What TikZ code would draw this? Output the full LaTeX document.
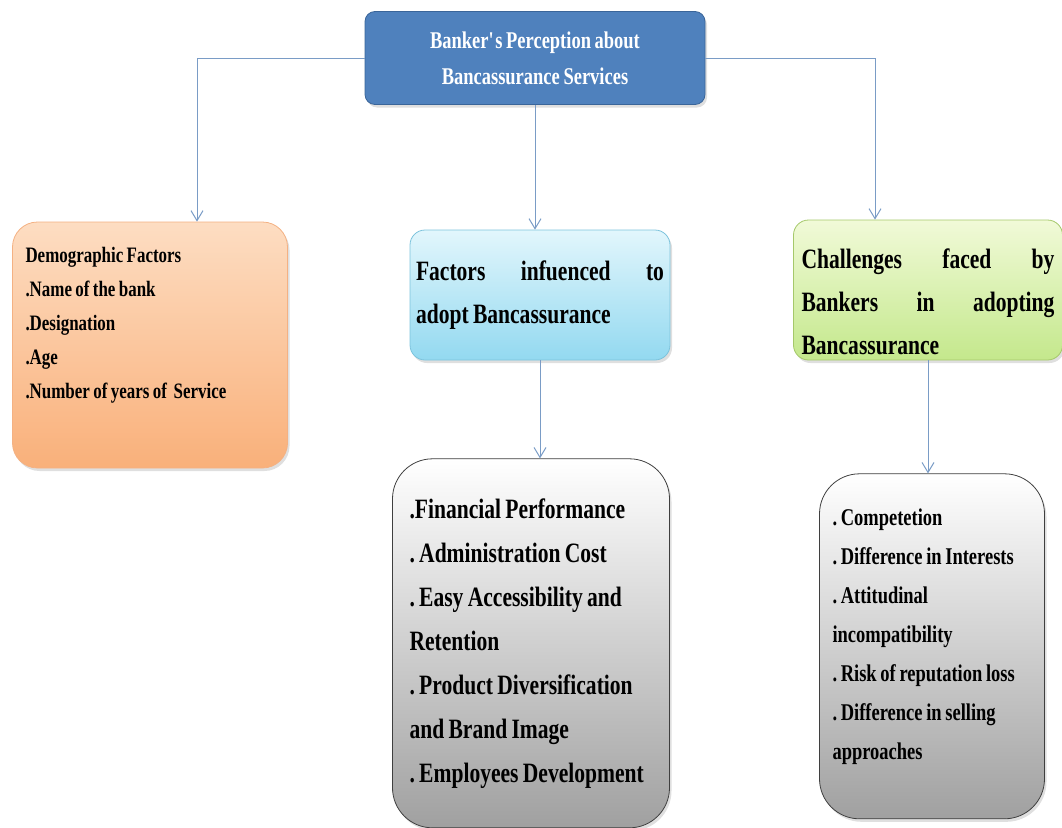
\documentclass[tikz,border=0pt]{standalone}
\usepackage{fontspec}
\setmainfont{Liberation Serif}[FakeStretch=0.77, WordSpace=0.8]
\usepackage{tikz}
\usetikzlibrary{arrows.meta, positioning, shadows}
\frenchspacing
\hyphenpenalty=10000
\definecolor{bluebox}{HTML}{4F81BD}
\definecolor{blueedge}{HTML}{3A6599}
\definecolor{linkblue}{HTML}{7A9CC6}
\definecolor{orangetop}{HTML}{FDDDC2}
\definecolor{orangebot}{HTML}{F9B07A}
\definecolor{orangeedge}{HTML}{F4B183}
\definecolor{cyantop}{HTML}{E2F6FC}
\definecolor{cyanbot}{HTML}{93D9F0}
\definecolor{cyanedge}{HTML}{7CC3DC}
\definecolor{greentop}{HTML}{F1FAD8}
\definecolor{greenbot}{HTML}{C4E88C}
\definecolor{greenedge}{HTML}{A5C86A}
\definecolor{greybot}{HTML}{A0A0A0}
\definecolor{greyedge}{HTML}{3F3F3F}
\tikzset{
    base/.style={draw, thick, align=flush left, inner ysep=0pt, font=\bfseries,
        drop shadow={opacity=0.25, shadow xshift=2pt, shadow yshift=-3pt}},
    topbox/.style={base, fill=bluebox, draw=blueedge, text=white, align=center,
        rounded corners=10pt, minimum width=340pt, minimum height=93pt,
        font=\bfseries\fontsize{24}{36}\selectfont},
    demobox/.style={base, top color=orangetop, bottom color=orangebot, draw=orangeedge,
        rounded corners=25pt, inner xsep=13pt, text width=249pt, minimum height=246pt,
        font=\bfseries\fontsize{22}{34}\selectfont},
    factorbox/.style={base, top color=cyantop, bottom color=cyanbot, draw=cyanedge,
        rounded corners=15pt, inner xsep=6pt, text width=248pt, minimum height=130pt,
        font=\bfseries\fontsize{28}{43}\selectfont},
    challbox/.style={base, top color=greentop, bottom color=greenbot, draw=greenedge,
        rounded corners=15pt, inner xsep=8pt, text width=253pt, minimum height=140pt,
        font=\bfseries\fontsize{28}{43}\selectfont},
    listbox/.style={base, top color=white, bottom color=greybot, draw=greyedge,
        rounded corners=40pt},
    line/.style={draw=linkblue, line width=1pt, -{Straight Barb[length=10pt, width=12pt]}}
}

\begin{document}
\begin{tikzpicture}[x=1pt, y=1pt]
    \useasboundingbox (0,0) rectangle (1062,-827);

    \node [topbox] (banker) at (535,-58) {Banker\textquotesingle s Perception about\\Bancassurance Services};
    \node [demobox] (demo) at (150,-345) {Demographic Factors\\.Name of the bank\\.Designation\\.Age\\.Number of years of\ \ Service\rule[-44pt]{0pt}{1pt}};
    \node [factorbox] (factors) at (540,-295) {Factors\hfill infuenced\hfill to\\adopt Bancassurance};
    \node [challbox] (chal) at (928,-290) {\rule{0pt}{44pt}Challenges\hfill faced\hfill by\\Bankers\hfill in\hfill adopting\\Bancassurance};

    \node [listbox, below=98pt of factors, xshift=-9pt, inner xsep=17pt, text width=243pt, minimum height=369pt,
        font=\bfseries\fontsize{28}{44}\selectfont] (finlist)
        {.Financial Performance\\. Administration Cost\\. Easy Accessibility and\\Retention\\. Product Diversification\\and Brand Image\\. Employees Development};
    \node [listbox, below=113pt of chal, xshift=4pt, inner xsep=13pt, text width=199pt, minimum height=345pt,
        font=\bfseries\fontsize{24}{39}\selectfont] (challist)
        {. Competetion\\. Difference in Interests\\. Attitudinal\\incompatibility\\. Risk of reputation loss\\. Difference in selling\\approaches\rule[-24pt]{0pt}{1pt}};

    \draw [line] (banker.west) -| ([xshift=47pt]demo.north);
    \draw [line] (banker.east) -| ([xshift=-53pt]chal.north);
    \draw [line] (banker.south) -- (banker.south |- factors.north);
    \draw [line] (factors.south) -- (factors.south |- finlist.north);
    \draw [line] (chal.south) -- (chal.south |- challist.north);
\end{tikzpicture}
\end{document}
